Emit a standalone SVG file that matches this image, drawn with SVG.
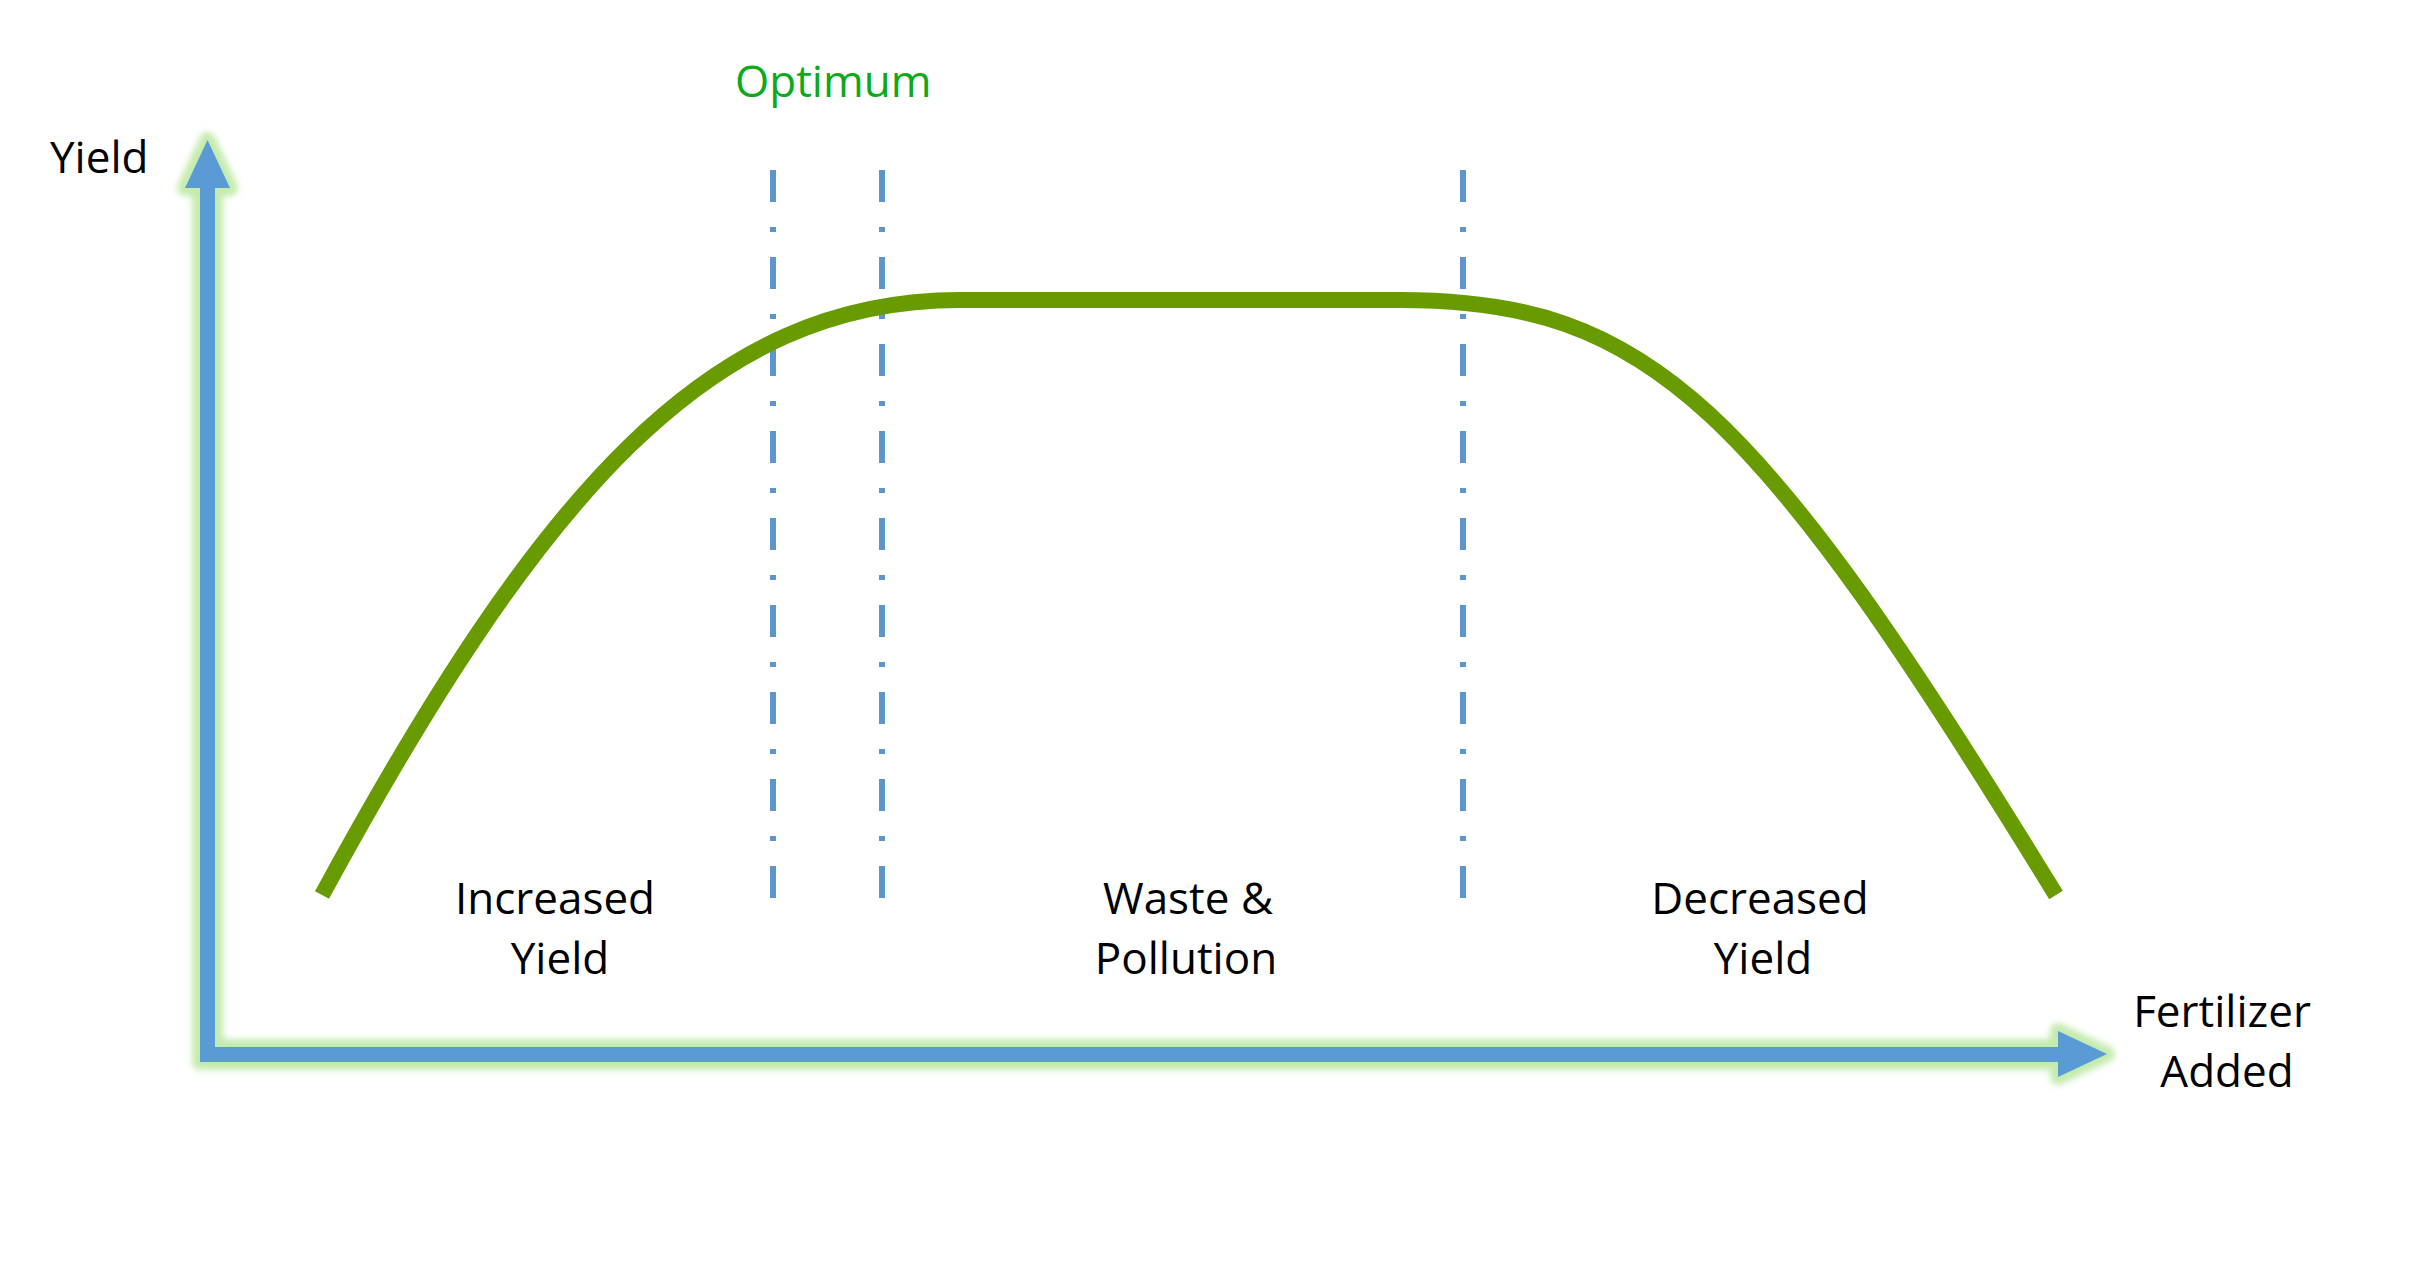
<svg xmlns="http://www.w3.org/2000/svg" width="2427" height="1285" viewBox="0 0 2427 1285">
  <defs>
    <style>
      .lbl { font-family: "Open Sans", "Liberation Sans", sans-serif; font-size: 44px; fill: #000000; }
      .mid { text-anchor: middle; }
      .opt { fill: #0aaa1a; }
      .glow { fill: #c4ebae; stroke: #c4ebae; stroke-width: 16; stroke-linejoin: round; }
      .axis { fill: #5b9bd5; }
      .guide { stroke: #5e95cc; stroke-width: 6; stroke-dasharray: 32 25 5 25; fill: none; }
      .curve { fill: none; stroke: #679b00; stroke-width: 16; stroke-linecap: butt; stroke-linejoin: round; }
    </style>
    <filter id="blur" x="-20%" y="-20%" width="140%" height="140%">
      <feGaussianBlur stdDeviation="3"/>
    </filter>
  </defs>
  <rect width="2427" height="1285" fill="#ffffff"/>

  <g id="connectors">
    <g id="axes">
      <g filter="url(#blur)">
        <rect class="glow" x="200" y="187" width="15" height="874"/>
        <polygon class="glow" points="207.5,140 185,188 230,188"/>
        <rect class="glow" x="200" y="1047" width="1858" height="15"/>
        <polygon class="glow" points="2058,1031 2058,1077 2107,1054"/>
      </g>
      <rect class="axis" x="200" y="186" width="15" height="875"/>
      <polygon class="axis" points="207.5,140 185,188 230,188"/>
      <rect class="axis" x="200" y="1047" width="1859" height="15"/>
      <polygon class="axis" points="2058,1031 2058,1077 2107,1054"/>
    </g>
    <g id="guides">
      <line class="guide" x1="773" y1="170" x2="773" y2="900"/>
      <line class="guide" x1="882" y1="170" x2="882" y2="900"/>
      <line class="guide" x1="1463" y1="170" x2="1463" y2="900"/>
    </g>
    <g id="yield-curve">
      <path class="curve" d="M 322 895 C 542 490 710 300 960 300 L 1400 300 C 1650 300 1756 406 2056 895"/>
    </g>
  </g>

  <g id="label-yield-axis">
    <text class="lbl" x="50" y="173">Yield</text>
  </g>
  <g id="label-optimum">
    <text class="lbl opt" x="735" y="97">Optimum</text>
  </g>
  <g id="label-increased">
    <text class="lbl mid" x="555" y="914">Increased</text>
    <text class="lbl mid" x="560" y="974">Yield</text>
  </g>
  <g id="label-waste">
    <text class="lbl mid" x="1188" y="914">Waste &amp;</text>
    <text class="lbl mid" x="1186" y="974">Pollution</text>
  </g>
  <g id="label-decreased">
    <text class="lbl mid" x="1760" y="914">Decreased</text>
    <text class="lbl mid" x="1763" y="974">Yield</text>
  </g>
  <g id="label-fertilizer">
    <text class="lbl mid" x="2222" y="1027">Fertilizer</text>
    <text class="lbl mid" x="2227" y="1087">Added</text>
  </g>
</svg>
